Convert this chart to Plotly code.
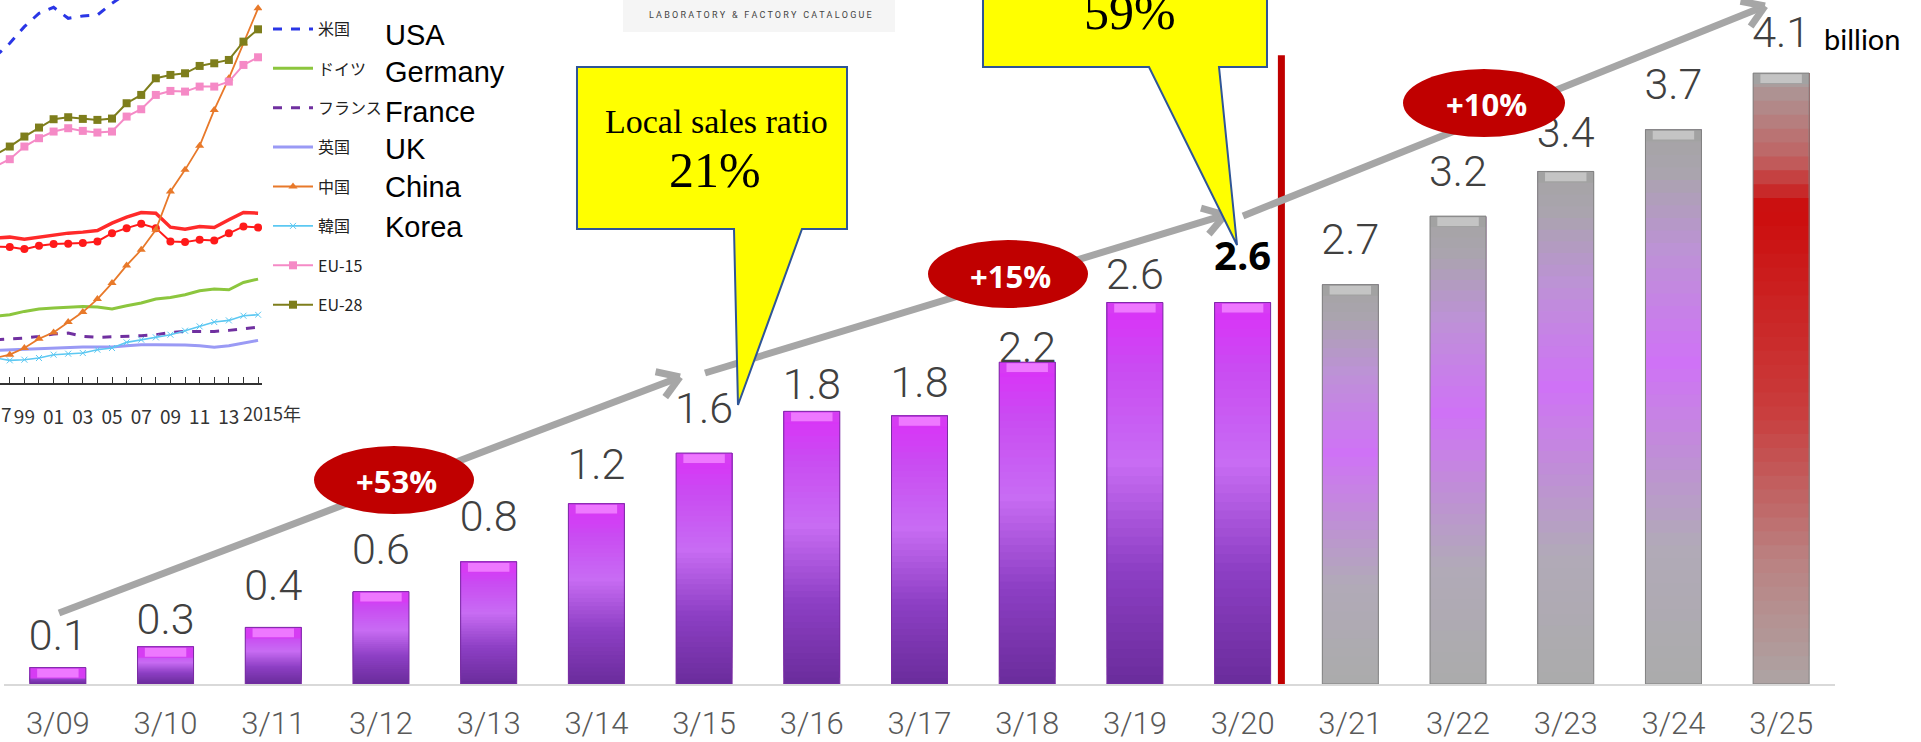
import math
import plotly.graph_objects as go

W, H = 1921, 742

# ---------------- main chart data ----------------
periods = ["3/09", "3/10", "3/11", "3/12", "3/13", "3/14", "3/15", "3/16", "3/17",
           "3/18", "3/19", "3/20", "3/21", "3/22", "3/23", "3/24", "3/25"]
sales = [0.11, 0.25, 0.38, 0.62, 0.82, 1.21, 1.55, 1.83, 1.80,
         2.16, 2.56, 2.56, 2.68, 3.14, 3.44, 3.72, 4.10]
sales_labels = ["0.1", "0.3", "0.4", "0.6", "0.8", "1.2", "1.6", "1.8", "1.8",
                "2.2", "2.6", "2.6", "2.7", "3.2", "3.4", "3.7", "4.1"]
phase = ["actual"] * 12 + ["plan"] * 4 + ["target"]
emphasis = [False] * 11 + [True] + [False] * 5
growth_labels = ["+53%", "+15%", "+10%"]
callout_title = "Local sales ratio"
callout_values = ["21%", "59%"]
unit_label = "billion"

# ---------------- inset line chart data (index, arbitrary units) ----------------
years = list(range(1997, 2016))
usa_years = list(range(1997, 2007))
usa = [98, 102, 107, 111, 112.8, 109.5, 110.2, 110.5, 114, 117]
germany = [20, 20.5, 21.5, 22.2, 22.5, 22.8, 23, 22.8, 22.2, 23.2, 24, 25.2, 25.7, 26.5, 27.7, 28.2, 28, 30.2, 31.2]
france = [13, 13.2, 13.5, 14, 14.7, 15, 14, 13.7, 13.8, 14, 14.2, 14.5, 15.2, 15.5, 15.5, 15.5, 15.8, 16.2, 16.8]
uk = [9.8, 10, 10.2, 10.4, 10.5, 10.6, 10.8, 10.8, 10.8, 11.2, 11.5, 11.5, 11.5, 11.4, 11.2, 10.7, 11.2, 12, 12.8]
china = [7.5, 8.5, 10.5, 13.3, 15.2, 18.3, 21.3, 25.2, 30, 35.3, 40, 46, 57.5, 64, 71.2, 82, 91.5, 102, 112.5]
korea = [7.5, 6.8, 7, 7.5, 8.5, 8.8, 9, 10, 10.5, 12.2, 13, 13.7, 14.5, 15.7, 17, 18.3, 18.8, 20.2, 20.5]
eu15 = [65, 67.2, 71, 73.5, 75.5, 76.5, 75.7, 75.2, 75.5, 80, 82.2, 86.5, 87.7, 87.5, 89, 89, 90.5, 95.5, 97.8]
eu28 = [68.5, 71, 74, 76.7, 79.2, 79.8, 79.3, 79, 79.4, 84, 86.5, 91.5, 92.5, 93, 95.2, 96, 97, 102.5, 106.2]
japan_a = [43.5, 43.8, 43.2, 43.8, 44.5, 45, 45.3, 45.8, 48, 49.8, 51.2, 51, 46.8, 46.2, 47, 46.7, 49, 51.2, 51]
japan_b = [41, 40.8, 40.2, 41.2, 41.7, 41.8, 42, 42.5, 45, 46.5, 47.8, 46.5, 42.5, 42.3, 43, 42.8, 45, 47, 46.7]
legend_jp = ["米国", "ドイツ", "フランス", "英国", "中国", "韓国", "EU-15", "EU-28"]
legend_en = ["USA", "Germany", "France", "UK", "China", "Korea"]
year_ticks = list(range(1998, 2016))
year_ticktext = ["" if (y % 2 == 0 or y == 2015) else f"{y % 100:02d}" for y in year_ticks]
last_year_label = "2015年"
first_year_label = "7"
banner_text = "L A B O R A T O R Y   &   F A C T O R Y   C A T A L O G U E"

# ---------------- styling ----------------
PXU = 149.0          # pixels per billion
BASE_PX = 684        # baseline pixel row
BW = 0.52
K = 44
STOPS = {
    "actual": [(0, "#6a2c9b"), (0.3, "#8d3fc4"), (0.58, "#c86cf3"), (0.82, "#c94cf2"), (1.0, "#dc30f8")],
    "plan": [(0, "#ababab"), (0.25, "#b1aab8"), (0.58, "#cf72f6"), (0.78, "#bd92d6"), (0.92, "#aaa4ae"), (1.0, "#a4a4a4")],
    "target": [(0, "#ada4a4"), (0.2, "#ba8282"), (0.45, "#c93c3c"), (0.78, "#cc0c0c"), (0.86, "#c06262"), (1.0, "#a8a2a2")],
}
CAP_OUT = {"actual": "#d63cf3", "plan": "#a2a2a2", "target": "#a2a2a2"}
CAP_IN = {"actual": "#ee78ff", "plan": "#c4c4c4", "target": "#c4c4c4"}
EDGE = {"actual": "#7a2ca3", "plan": "#808080", "target": "#808080"}
label_gap_px = [20, 16, 30, 30, 34, 27, 33, 15, 22, 3, 16, 35, 33, 33, 27, 33, 29]
LABEL_CAP = 32
LABEL_ADJ = -8
NUM_FONT = "Roboto, sans-serif"


def hex2rgb(h):
    return tuple(int(h[i:i + 2], 16) for i in (1, 3, 5))


def ramp(stops, t):
    for (t0, c0), (t1, c1) in zip(stops, stops[1:]):
        if t <= t1:
            f = (t - t0) / (t1 - t0)
            a, b = hex2rgb(c0), hex2rgb(c1)
            return "rgb(%d,%d,%d)" % tuple(round(a[i] + (b[i] - a[i]) * f) for i in range(3))
    return stops[-1][1]


idx = list(range(len(periods)))
fig = go.Figure()

# gradient bars (stacked overlapping slices)
for k in range(K):
    t0 = k / K
    fig.add_trace(go.Bar(
        x=idx, y=[v * (1 - t0) for v in sales], base=[v * t0 for v in sales],
        width=BW, marker=dict(color=[ramp(STOPS[p], (k + 0.5) / K) for p in phase], line=dict(width=0)),
        hoverinfo="skip", showlegend=False))
cap = 11 / PXU
fig.add_trace(go.Bar(x=idx, y=[min(cap, v) for v in sales], base=[max(0, v - cap) for v in sales],
                     width=BW, marker=dict(color=[CAP_OUT[p] for p in phase], line=dict(width=0)),
                     hoverinfo="skip", showlegend=False))
fig.add_trace(go.Bar(x=idx, y=[min(cap, v) * 0.8 for v in sales], base=[max(0, v - cap) + 0.1 * min(cap, v) for v in sales],
                     width=BW * 0.74, marker=dict(color=[CAP_IN[p] for p in phase], line=dict(width=0)),
                     hoverinfo="skip", showlegend=False))
fig.add_trace(go.Bar(x=idx, y=sales, width=BW,
                     marker=dict(color="rgba(0,0,0,0)", line=dict(width=1, color=[EDGE[p] for p in phase])),
                     hoverinfo="skip", showlegend=False))

# value labels
reg = [i for i in idx if not emphasis[i]]
fig.add_trace(go.Scatter(
    x=reg, y=[sales[i] + (label_gap_px[i] + LABEL_CAP / 2 + LABEL_ADJ) / PXU for i in reg],
    text=[sales_labels[i] for i in reg], mode="text", textposition="middle center",
    textfont=dict(family=NUM_FONT, size=43, color="#404040", weight=300), cliponaxis=False,
    hoverinfo="skip", showlegend=False))
emp = [i for i in idx if emphasis[i]]
fig.add_trace(go.Scatter(
    x=emp, y=[sales[i] + (label_gap_px[i] + 15 - 7) / PXU for i in emp],
    text=[sales_labels[i] for i in emp], mode="text", textposition="middle center",
    textfont=dict(family="Open Sans, sans-serif", size=40, color="#000000", weight="bold"),
    cliponaxis=False, hoverinfo="skip", showlegend=False))

# inset line chart
def inset(xs, ys, name, color, width, dash="solid", symbol=None, msize=7, legend=True):
    mode = "lines+markers" if symbol else "lines"
    fig.add_trace(go.Scatter(
        x=xs, y=ys, name=name, mode=mode, xaxis="x2", yaxis="y2",
        line=dict(color=color, width=width, dash=dash),
        marker=dict(symbol=symbol or "circle", size=msize, color=color),
        showlegend=legend, legendgroup=name, hoverinfo="skip"))

inset(years, japan_a, "日本", "#ff2a2a", 3.5, legend=False)
inset(years, japan_b, "日本2", "#ff1a1a", 2, symbol="circle", msize=8, legend=False)
inset(usa_years, usa, legend_jp[0], "#2a36e6", 3, dash="dash")
inset(years, germany, legend_jp[1], "#8cc63e", 3)
inset(years, france, legend_jp[2], "#7030a0", 3, dash="dash")
inset(years, uk, legend_jp[3], "#9a9af5", 3)
inset(years, china, legend_jp[4], "#e8792a", 1.8, symbol="triangle-up", msize=8)
inset(years, korea, legend_jp[5], "#5cc8f2", 1.6, symbol="x-thin-open", msize=6)
inset(years, eu15, legend_jp[6], "#f58ac6", 2, symbol="square", msize=8)
inset(years, eu28, legend_jp[7], "#7e7e1c", 2, symbol="square", msize=8)

# ---------------- decorations ----------------
shapes, annotations = [], []


def seg(x0, y0, x1, y1, color="#a6a6a6", width=7):
    shapes.append(dict(type="line", xref="paper", yref="paper", x0=x0 / W, y0=1 - y0 / H,
                       x1=x1 / W, y1=1 - y1 / H, line=dict(color=color, width=width)))


def arrow(x0, y0, x1, y1):
    ang = math.atan2(y0 - y1, x0 - x1)
    seg(x0, y0, x1 + 4 * math.cos(ang), y1 + 4 * math.sin(ang))
    for d in (33, -33):
        a = ang + math.radians(d)
        seg(x1, y1, x1 + 25 * math.cos(a), y1 + 25 * math.sin(a))


def poly(points, fill, line):
    p = "M " + " L ".join(f"{x / W:.5f},{1 - y / H:.5f}" for x, y in points) + " Z"
    shapes.append(dict(type="path", xref="paper", yref="paper", path=p, fillcolor=fill,
                       line=dict(color=line, width=2)))


def text(x, y, s, size, family, color="#000000", xanchor="center", weight="normal"):
    annotations.append(dict(x=x / W, y=1 - y / H, xref="paper", yref="paper", text=s, showarrow=False,
                            xanchor=xanchor, yanchor="middle",
                            font=dict(size=size, family=family, color=color, weight=weight)))


# separator between actual and plan
shapes.append(dict(type="line", xref="x", yref="y", x0=11.36, x1=11.36, y0=-0.035, y1=4.22,
                   line=dict(color="#c00000", width=7)))
arrow(59, 613, 680, 377)
arrow(705, 373, 1225, 215)
arrow(1243, 216, 1765, 6)
poly([(577, 67), (847, 67), (847, 229), (802, 229), (738, 405), (734, 229), (577, 229)], "#ffff00", "#2f5597")
poly([(983, -10), (1267, -10), (1267, 67), (1219, 67), (1237, 245), (1149, 67), (983, 67)], "#ffff00", "#2f5597")
for (cx, cy, rx, ry) in [(394, 480, 80, 34), (1008, 274, 80, 34), (1484, 103, 81, 34)]:
    shapes.append(dict(type="circle", xref="paper", yref="paper", x0=(cx - rx) / W, x1=(cx + rx) / W,
                       y0=1 - (cy + ry) / H, y1=1 - (cy - ry) / H, fillcolor="#c00000", line=dict(width=0)))
shapes.append(dict(type="rect", xref="paper", yref="paper", x0=623 / W, x1=895 / W, y0=1 - 32 / H, y1=1,
                   fillcolor="#f5f5f5", line=dict(width=0)))

for s, (cx, cy) in zip(growth_labels, [(396, 481), (1010, 276), (1486, 104)]):
    text(cx, cy, s, 31, "Open Sans, sans-serif", "#ffffff", weight="bold")
text(716, 122, callout_title, 34, "Liberation Serif, serif")
text(715, 170, callout_values[0], 50, "Liberation Serif, serif")
text(1130, 12, callout_values[1], 50, "Liberation Serif, serif")
text(1822, 38, unit_label, 29, "Lato, sans-serif", xanchor="left")
for s, cy in zip(legend_en, [35, 72, 112, 149, 187, 227]):
    text(383, cy, s, 29, "Liberation Sans, Arial, sans-serif", xanchor="left")
text(760, 15, banner_text, 9, "Liberation Sans Narrow, Roboto, sans-serif", "#444444")
text(-1, 413, first_year_label, 19, "Noto Sans CJK JP", "#333333", xanchor="left")
text(241, 413, last_year_label, 18, "Noto Sans CJK JP", "#333333", xanchor="left")

fig.update_layout(
    width=W, height=H, autosize=False, margin=dict(l=0, r=0, t=0, b=0),
    paper_bgcolor="#ffffff", plot_bgcolor="rgba(0,0,0,0)", barmode="overlay",
    shapes=shapes, annotations=annotations,
    xaxis=dict(domain=[4 / W, 1835 / W], range=[-0.5, 16.5], tickmode="array", tickvals=idx, ticktext=periods,
               showline=True, linecolor="#d9d9d9", linewidth=2, ticks="", showgrid=False, zeroline=False,
               ticklabelstandoff=11, tickfont=dict(family="Roboto, sans-serif", size=31, color="#595959", weight=300)),
    yaxis=dict(domain=[1 - BASE_PX / H, 1], range=[0, BASE_PX / PXU], visible=False),
    xaxis2=dict(domain=[0, 262 / W], anchor="y2", range=[1997.33, 2015.27], tickmode="array",
                tickvals=year_ticks, ticktext=year_ticktext, ticks="inside", ticklen=6, tickcolor="#333333",
                showline=True, linecolor="#333333", linewidth=1.5, showgrid=False, zeroline=False,
                tickangle=0, ticklabelstandoff=16,
                tickfont=dict(family="Noto Sans CJK JP", size=19, color="#333333")),
    yaxis2=dict(domain=[1 - 383 / H, 1], anchor="x2", range=[0, 115], visible=False),
    legend=dict(x=268 / W, y=1 - 12 / H, xanchor="left", yanchor="top", bgcolor="rgba(0,0,0,0)",
                traceorder="grouped", tracegroupgap=15.6, itemwidth=40,
                font=dict(family="Noto Sans CJK JP", size=16, color="#222222")),
    showlegend=True,
)

fig.write_html("out.html",
               post_script="document.body.style.margin='0';document.documentElement.style.overflow='hidden';")
